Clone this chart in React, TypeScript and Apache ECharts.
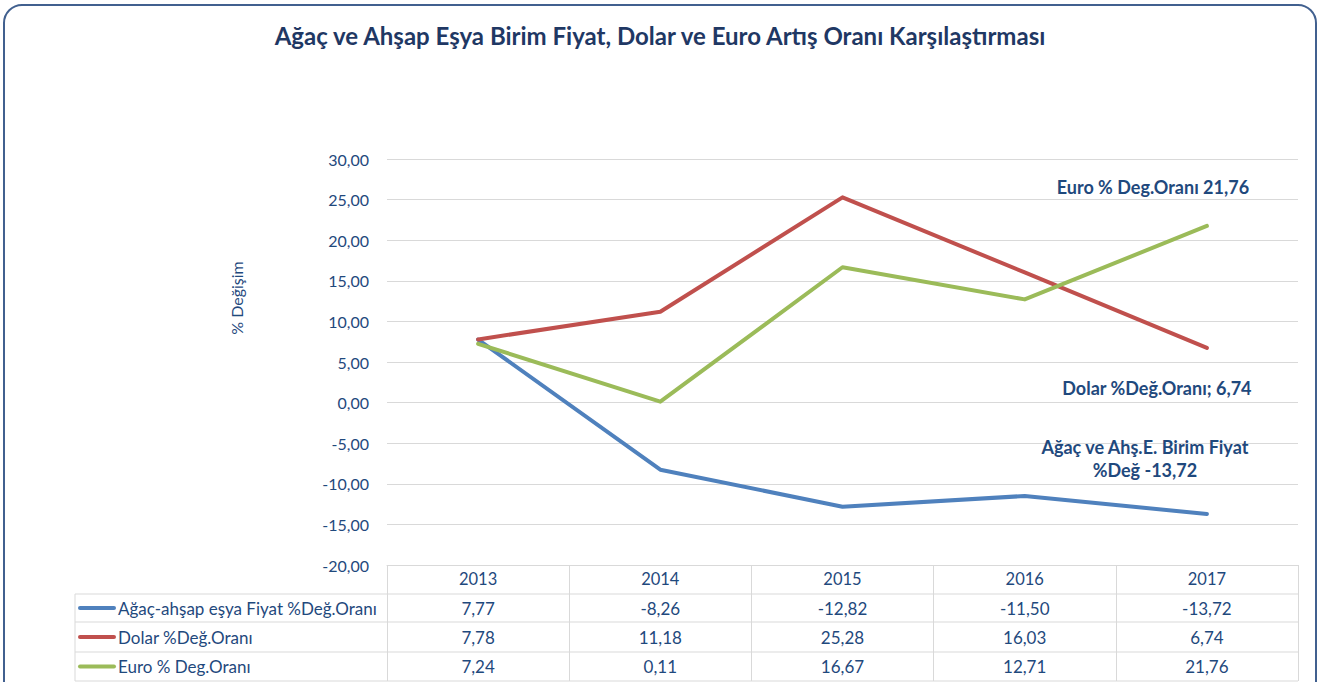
import React, { useEffect, useRef } from "react";
import * as echarts from "echarts";

const years = ["2013", "2014", "2015", "2016", "2017"];
const agacValues = [7.77, -8.26, -12.82, -11.5, -13.72];
const dolarValues = [7.78, 11.18, 25.28, 16.03, 6.74];
const euroValues = [7.24, 0.11, 16.67, 12.71, 21.76];
const seriesNames = [
  "Ağaç-ahşap eşya Fiyat %Değ.Oranı",
  "Dolar %Değ.Oranı",
  "Euro % Deg.Oranı",
];
const endLabels = [
  "Ağaç ve Ahş.E. Birim Fiyat\n%Değ -13,72",
  "Dolar %Değ.Oranı; 6,74",
  "Euro % Deg.Oranı 21,76",
];
const yMin = -20;
const yMax = 30;
const yInterval = 5;
const titleText = "Ağaç ve Ahşap Eşya Birim Fiyat, Dolar ve Euro Artış Oranı Karşılaştırması";
const yAxisTitle = "% Değişim";

const COLORS = ["#4f81bd", "#c0504d", "#9bbb59"];
const TEXT = "#1f497d";
const GRIDC = "#d9d9d9";
const FONT = "Lato, 'Open Sans', sans-serif";

const fmt = (v: number) => v.toFixed(2).replace(".", ",");

export default function App() {
  const ref = useRef<HTMLDivElement>(null);
  useEffect(() => {
    document.body.style.margin = "0";
    const chart = echarts.init(ref.current!, null, { renderer: "svg" });
    const allSeries = [agacValues, dolarValues, euroValues];
    const labelOffsets: [number, number][] = [
      [-62, -56],
      [-50, 40],
      [-54, -39],
    ];
    chart.setOption({
      animation: false,
      backgroundColor: "#ffffff",
      textStyle: { fontFamily: FONT },
      title: {
        text: titleText,
        left: "center",
        top: 18,
        textStyle: { fontFamily: FONT, fontSize: 24, fontWeight: "bold", color: "#1f3864" },
      },
      grid: { left: 387, right: 22, top: 159, bottom: 117, containLabel: false },
      xAxis: {
        type: "category",
        data: years,
        boundaryGap: true,
        axisLine: { show: true, onZero: false, lineStyle: { color: GRIDC, width: 1 } },
        axisTick: { show: true, inside: false, length: 116, lineStyle: { color: GRIDC, width: 1 } },
        axisLabel: { color: TEXT, fontSize: 16.5, margin: 5, fontFamily: FONT },
        splitLine: { show: false },
      },
      yAxis: {
        type: "value",
        min: yMin,
        max: yMax,
        interval: yInterval,
        axisLine: { show: false },
        axisTick: { show: false },
        axisLabel: { color: TEXT, fontSize: 16, margin: 18, fontFamily: FONT, formatter: (v: number) => fmt(v) },
        splitLine: { lineStyle: { color: GRIDC, width: 1 } },
      },
      series: allSeries.map((vals, si) => ({
        type: "line",
        name: seriesNames[si],
        symbol: "circle",
        symbolSize: 0,
        showSymbol: true,
        lineStyle: { color: COLORS[si], width: 4, cap: "round", join: "round" },
        itemStyle: { color: COLORS[si] },
        data: vals.map((v, i) =>
          i === vals.length - 1
            ? {
                value: v,
                label: {
                  show: true,
                  position: "inside",
                  offset: labelOffsets[si],
                  formatter: endLabels[si],
                  color: TEXT,
                  fontSize: 18,
                  fontWeight: "bold",
                  fontFamily: FONT,
                  align: "center",
                  verticalAlign: "middle",
                  lineHeight: 23,
                },
              }
            : v
        ),
        z: 3 + si,
      })),
    });

    const xs = years.map((y) => chart.convertToPixel({ xAxisIndex: 0 }, y) as number);
    const rowLines = [594, 622, 652, 681];
    const tableLeft = 75;
    const tableRight = 1298;
    const graphics: any[] = [];
    graphics.push({
      type: "rect",
      shape: { x: 4, y: 5, width: 1312, height: 720, r: 18 },
      style: { fill: "none", stroke: "#41608f", lineWidth: 2 },
      silent: true,
      z: 0,
    });
    graphics.push({
      type: "text",
      x: 236,
      y: 298,
      rotation: Math.PI / 2,
      style: { text: yAxisTitle, fill: TEXT, fontSize: 16, fontFamily: FONT, align: "center", verticalAlign: "middle" },
    });
    rowLines.forEach((y) => {
      graphics.push({
        type: "line",
        shape: { x1: tableLeft, y1: y, x2: tableRight, y2: y },
        style: { stroke: GRIDC, lineWidth: 1 },
      });
    });
    graphics.push({
      type: "line",
      shape: { x1: tableLeft, y1: rowLines[0], x2: tableLeft, y2: rowLines[3] },
      style: { stroke: GRIDC, lineWidth: 1 },
    });
    allSeries.forEach((vals, si) => {
      const cy = (rowLines[si] + rowLines[si + 1]) / 2;
      graphics.push({
        type: "line",
        shape: { x1: 80, y1: cy, x2: 114, y2: cy },
        style: { stroke: COLORS[si], lineWidth: 4, lineCap: "round" },
      });
      graphics.push({
        type: "text",
        x: 118,
        y: cy,
        style: { text: seriesNames[si], fill: TEXT, fontSize: 17, fontFamily: FONT, align: "left", verticalAlign: "middle" },
      });
      vals.forEach((v, i) => {
        graphics.push({
          type: "text",
          x: xs[i],
          y: cy,
          style: { text: fmt(v), fill: TEXT, fontSize: 17, fontFamily: FONT, align: "center", verticalAlign: "middle" },
        });
      });
    });
    chart.setOption({ graphic: graphics });
    return () => chart.dispose();
  }, []);
  return <div ref={ref} style={{ width: 1320, height: 682 }} />;
}
